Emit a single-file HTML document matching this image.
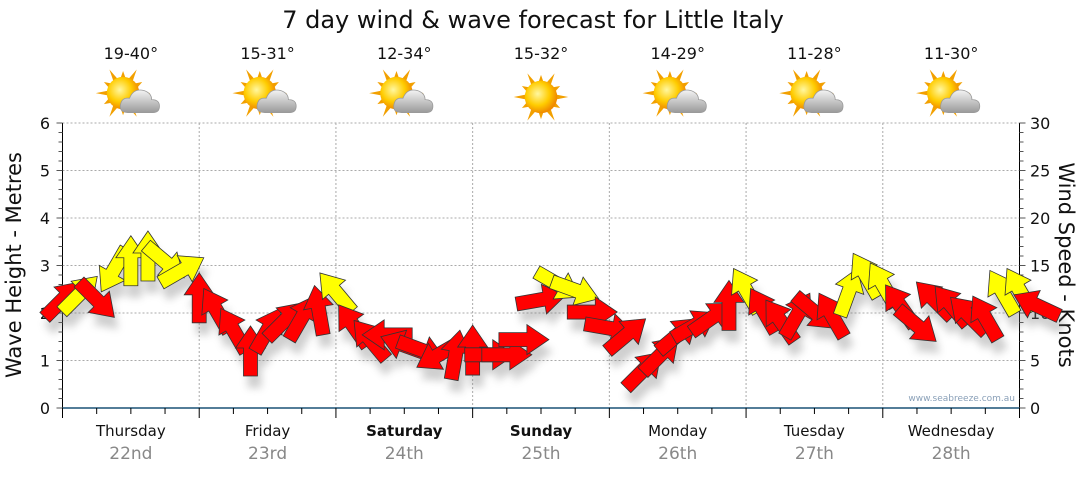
<!DOCTYPE html>
<html><head><meta charset="utf-8"><style>
body{margin:0;background:#fff;width:1080px;height:475px;overflow:hidden;font-family:"Liberation Sans",sans-serif}
svg text{font-family:"DejaVu Sans","Liberation Sans",sans-serif}
</style></head><body>
<svg id="c" width="1080" height="475">
<defs>
<filter id="sh" x="-50%" y="-50%" width="200%" height="200%"><feGaussianBlur stdDeviation="4"/></filter>
<radialGradient id="sun" cx="40%" cy="40%" r="60%"><stop offset="0" stop-color="#fff7a0"/><stop offset="0.6" stop-color="#ffcc00"/><stop offset="1" stop-color="#f08a00"/></radialGradient>
<linearGradient id="cloud" x1="0" y1="0" x2="0" y2="1"><stop offset="0" stop-color="#f4f4f4"/><stop offset="1" stop-color="#9a9a9a"/></linearGradient>
</defs>
</svg>
<script>
const dayNames=["Thursday","Friday","Saturday","Sunday","Monday","Tuesday","Wednesday"];
const dayDates=["22nd","23rd","24th","25th","26th","27th","28th"];
const dayBold=[false,false,true,true,false,false,false];
const temps=["19-40°","15-31°","12-34°","15-32°","14-29°","11-28°","11-30°"];
const cloudy=[true,true,true,false,true,true,true];
const leftTicks=[0,1,2,3,4,5,6];
const rightTicks=[0,5,10,15,20,25,30];
// wind every 3 hours (knots) and direction arrow points to (screen degrees, 0=east,-90=up)
const windSpeed=[11.4,12,11.4,14.5,15.5,16,15.4,14.5, 11.6,10.3,8.2,6,8.2,9.2,9.5,10.3, 12.2,8.7,7.2,7.7,6.6,6.1,5.6,5.6, 6.1,5.6,5.6,7.2,11.4,13,12.4,10.1, 8.4,7.7,4,5.6,7.7,8.7,9.5,10.8, 12.4,10.3,9.2,9.8,10.1,9.8,12.2,14, 13,10.8,8.7,11.4,10.8,9.8,9.5,12.2, 12.4,10.8];
const windDir=[-45,-45,45,120,-90,-90,40,-30, -90,-120,-120,-90,-60,-45,-60,-100, -130,-125,-130,180,-160,20,150,-80, -90,0,0,0,-10,30,20,0, 10,-40,-45,-45,-40,-30,-35,-90, -120,-120,-125,-60,40,-120,-70,-120, -120,-125,40,-135,-130,-135,-120,-120, -120,-155];
const NS="http://www.w3.org/2000/svg";
const svg=document.getElementById('c');
const X0=62.5,X1=1019.5,Y0=408,YT=123;
const dayW=(X1-X0)/7;
function xH(h){return X0+h*(X1-X0)/168;}
function yM(m){return Y0-(Y0-YT)*m/6;}
function yK(k){return Y0-(Y0-YT)*k/30;}
function el(t,a,p){const e=document.createElementNS(NS,t);for(const k in a)e.setAttribute(k,a[k]);(p||svg).appendChild(e);return e;}
let t=el('text',{x:533,y:28,'text-anchor':'middle','font-size':24,fill:'#111'});t.textContent="7 day wind & wave forecast for Little Italy";


const grid=el('g',{});


leftTicks.forEach(v=>{if(v>0)el('line',{x1:X0,x2:X1,y1:yM(v),y2:yM(v),stroke:'#aaa','stroke-dasharray':'2,2'},grid);});
for(let d=1;d<7;d++){const x=X0+d*dayW;el('line',{x1:x,x2:x,y1:YT,y2:Y0,stroke:'#aaa','stroke-dasharray':'2,2'},grid);}
const ax=el('g',{});


el('line',{x1:X0,x2:X0,y1:YT,y2:Y0,stroke:'#000'},ax);
el('line',{x1:X1,x2:X1,y1:YT,y2:Y0,stroke:'#000'},ax);
el('line',{x1:X0,x2:X1,y1:Y0,y2:Y0,stroke:'#1a5276','stroke-width':1.5},ax);
for(let i=0;i<=30;i++){const y=yK(i);const major=i%5==0;
 el('line',{x1:X0-(major?6:4),x2:X0,y1:y,y2:y,stroke:'#555'},ax);
 el('line',{x1:X1,x2:X1+(major?6:4),y1:y,y2:y,stroke:'#555'},ax);}
leftTicks.forEach(v=>{const e=el('text',{x:50,y:yM(v)+6,'text-anchor':'end','font-size':16,fill:'#111'},ax);e.textContent=v;
 
 });
rightTicks.forEach(v=>{const e=el('text',{x:1030,y:yK(v)+6,'font-size':16,fill:'#111'},ax);e.textContent=v;
 
 });
for(let h=0;h<=168;h+=6){const x=xH(h);const major=h%24==0;el('line',{x1:x,x2:x,y1:Y0,y2:Y0+(major?10:6),stroke:'#000'},ax);}
let lt=el('text',{transform:'translate(21,265) rotate(-90)','text-anchor':'middle','font-size':21,fill:'#111'});lt.textContent="Wave Height - Metres";


let rt=el('text',{transform:'translate(1059,265) rotate(90)','text-anchor':'middle','font-size':21,fill:'#111'});rt.textContent="Wind Speed - Knots";


let wm=el('text',{x:1015,y:401,'text-anchor':'end','font-size':9,fill:'#8aa0b8'});wm.textContent="www.seabreeze.com.au";


dayNames.forEach((n,i)=>{const cx=X0+(i+0.5)*dayW;
 const a=el('text',{x:cx,y:436,'text-anchor':'middle','font-size':15,fill:'#111','font-weight':dayBold[i]?'bold':'normal'});a.textContent=n;
 
 
 const b=el('text',{x:cx,y:459,'text-anchor':'middle','font-size':17,fill:'#888'});b.textContent=dayDates[i];
 
 
 const c=el('text',{x:cx,y:59,'text-anchor':'middle','font-size':16,fill:'#111'});c.textContent=temps[i];
 
 
 const g=el('g',{transform:`translate(${cx},97) scale(1.3)`});
 
 
 const sx=cloudy[i]?-6:0,sy=cloudy[i]?-3:0;
 for(let k=0;k<12;k++){const ang=k*30*Math.PI/180;const r1=12,r2=k%2?17:21;
  el('polygon',{points:`${sx+Math.cos(ang-0.15)*r1},${sy+Math.sin(ang-0.15)*r1} ${sx+Math.cos(ang)*r2},${sy+Math.sin(ang)*r2} ${sx+Math.cos(ang+0.15)*r1},${sy+Math.sin(ang+0.15)*r1}`,fill:'#f2a000'},g);}
 el('circle',{cx:sx,cy:sy,r:12.5,fill:'url(#sun)'},g);
 if(cloudy[i]){el('path',{d:'M-2,12 Q-9,12 -8,6 Q-7,0 -1,1 Q2,-7 10,-5 Q16,-3 16,2 Q22,2 22,7 Q22,12 17,12 Z',fill:'url(#cloud)',stroke:'#999','stroke-width':0.6},g);}
});
const ag=el('g',{});


const shg=el('g',{filter:'url(#sh)',opacity:0.35},ag);
const arrowPts="-25,-7 3,-7 3,-15 25,0 3,15 3,7 -25,7";
windSpeed.forEach((k,i)=>{const x=xH(i*3),y=yK(k);
 el('polygon',{points:arrowPts,fill:'#777',transform:`translate(${x+4},${y+12}) rotate(${windDir[i]})`},shg);});
windSpeed.forEach((k,i)=>{const x=xH(i*3),y=yK(k);
 const p=el('polygon',{points:arrowPts,fill:k>=12?'#ffff00':'#ff0000',stroke:'#333','stroke-width':0.8,transform:`translate(${x},${y}) rotate(${windDir[i]})`},ag);
 
 });
</script>
</body></html>
